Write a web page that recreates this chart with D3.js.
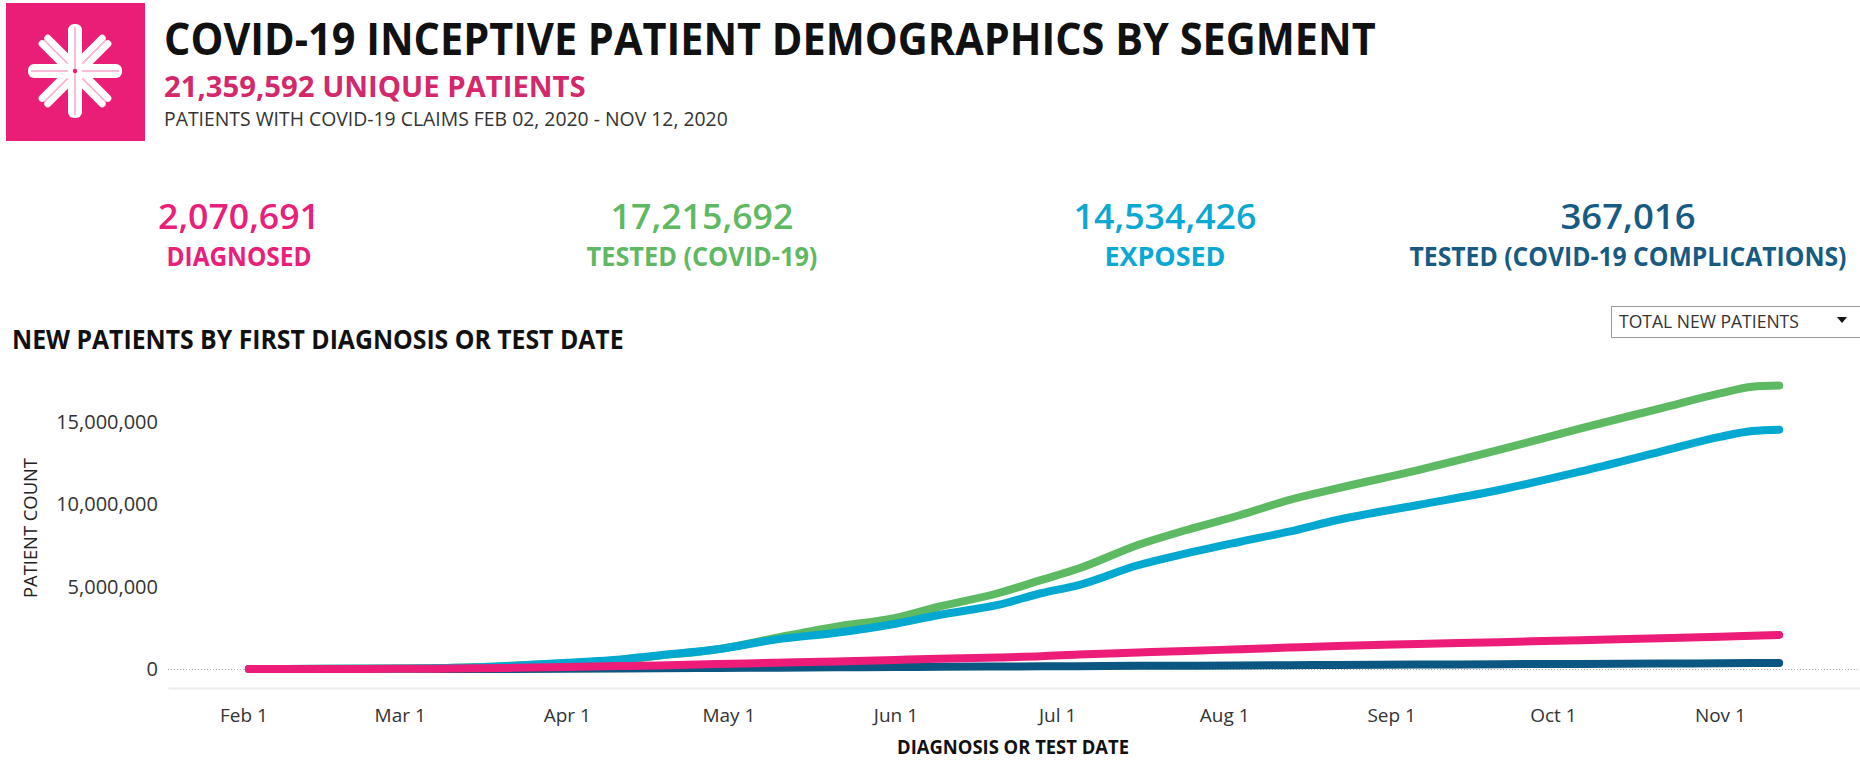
<!DOCTYPE html>
<html>
<head>
<meta charset="utf-8">
<script src="https://cdn.jsdelivr.net/npm/d3@7"></script>
<style>
  html, body { margin: 0; padding: 0; background: #fff; }
  svg { display: block; font-family: "Open Sans", "Noto Sans", sans-serif; }
</style>
</head>
<body>
<div id="vis"></div>
<script>
// Data (patient counts, cumulative)
const dates = ["2020-02-02", "2020-02-16", "2020-03-01", "2020-03-15", "2020-03-22", "2020-04-01",
  "2020-04-11", "2020-04-18", "2020-04-29", "2020-05-10", "2020-05-21", "2020-06-01", "2020-06-09",
  "2020-06-20", "2020-06-28", "2020-07-05", "2020-07-16", "2020-07-25", "2020-08-04", "2020-08-13",
  "2020-08-22", "2020-09-06", "2020-09-21", "2020-10-06", "2020-10-21", "2020-11-01", "2020-11-07",
  "2020-11-12"];

// in millions
const tested = [0, 0.01, 0.03, 0.1, 0.2, 0.35, 0.55, 0.8, 1.2, 1.9, 2.57, 3.1, 3.78, 4.6, 5.4, 6.1,
  7.53, 8.44, 9.35, 10.26, 10.97, 12.08, 13.3, 14.6, 15.83, 16.74, 17.14, 17.215692];
const exposed = [0, 0.01, 0.03, 0.1, 0.2, 0.38, 0.58, 0.82, 1.2, 1.8, 2.2, 2.75, 3.28, 3.89, 4.6, 5.1,
  6.3, 7.02, 7.73, 8.34, 9.05, 9.96, 10.87, 11.98, 13.2, 14.1, 14.45, 14.534426];
const diagnosed = [0, 0.002, 0.01, 0.04, 0.07, 0.12, 0.18, 0.22, 0.3, 0.38, 0.46, 0.55, 0.62, 0.7, 0.77, 0.88,
  1.0, 1.1, 1.2, 1.3, 1.4, 1.52, 1.63, 1.75, 1.86, 1.96, 2.02, 2.070691];
const complications = [0, 0, 0.001, 0.003, 0.006, 0.015, 0.03, 0.04, 0.06, 0.08, 0.1, 0.12, 0.13, 0.15, 0.16,
  0.17, 0.19, 0.2, 0.22, 0.235, 0.25, 0.27, 0.29, 0.31, 0.33, 0.35, 0.36, 0.367016];

const kpiValues = [2070691, 17215692, 14534426, 367016];
const kpiLabels = ["DIAGNOSED", "TESTED (COVID-19)", "EXPOSED", "TESTED (COVID-19 COMPLICATIONS)"];
const kpiColors = ["#e8207a", "#5fb962", "#0aa8d2", "#175a82"];

const yTicks = [0, 5000000, 10000000, 15000000];
const monthTicks = ["2020-02-01", "2020-03-01", "2020-04-01", "2020-05-01", "2020-06-01", "2020-07-01",
  "2020-08-01", "2020-09-01", "2020-10-01", "2020-11-01"];

const parse = d3.timeParse("%Y-%m-%d");

const svg = d3.select("#vis").append("svg")
  .attr("width", 1860)
  .attr("height", 761);

// text squeezed horizontally to a measured width (Tableau's font is narrower)
function label(x, y, w, anchor, txt) {
  const t = svg.append("text").attr("text-anchor", anchor).text(txt);
  return {
    t,
    done() {
      const k = w / t.node().getComputedTextLength();
      t.attr("transform", `translate(${x},${y}) scale(${k},1)`);
      return t;
    }
  };
}
function fitText(x, y, w, anchor, txt, size, weight, color) {
  const l = label(x, y, w, anchor, txt);
  l.t.attr("font-size", size).attr("font-weight", weight).attr("fill", color);
  return l.done();
}

// ---- logo
const logo = svg.append("g");
logo.append("rect")
  .attr("x", 6).attr("y", 3).attr("width", 139).attr("height", 138)
  .attr("fill", "#ea1e76");
const star = logo.append("g").attr("transform", "translate(75,71)");
[45, 135].forEach(a => {
  const arm = star.append("g").attr("transform", `rotate(${a})`);
  [-4, 4].forEach(off => {
    arm.append("rect")
      .attr("x", -46).attr("y", off - 3.5).attr("width", 92).attr("height", 7).attr("rx", 3.5)
      .attr("fill", "#fff");
  });
  arm.append("line")
    .attr("x1", -44).attr("x2", 44)
    .attr("stroke", "#f7c0d8").attr("stroke-width", 1.2);
});
[0, 90].forEach(a => {
  const arm = star.append("g").attr("transform", `rotate(${a})`);
  arm.append("rect")
    .attr("x", -47).attr("y", -7).attr("width", 94).attr("height", 14).attr("rx", 6)
    .attr("fill", "#fff");
  arm.append("line")
    .attr("x1", -44).attr("x2", 44)
    .attr("stroke", "#f4a6c8").attr("stroke-width", 1.5);
});
star.append("circle").attr("r", 2.2).attr("fill", "#ea1e76");

// ---- header text
fitText(164, 55, 1212, "start", "COVID-19 INCEPTIVE PATIENT DEMOGRAPHICS BY SEGMENT", 45, 700, "#111");
fitText(164, 97, 422, "start", "21,359,592 UNIQUE PATIENTS", 29, 700, "#d3286c");
fitText(164, 126, 564, "start", "PATIENTS WITH COVID-19 CLAIMS FEB 02, 2020 - NOV 12, 2020", 20, 400, "#333");

// ---- KPI row
const kpiX = [239, 702, 1165, 1628];
const numW = [162, 183, 183, 135];
const labW = [145, 231, 121, 437];
kpiValues.forEach((v, i) => {
  fitText(kpiX[i], 229, numW[i], "middle", d3.format(",")(v), 34, 600, kpiColors[i]);
  fitText(kpiX[i], 266, labW[i], "middle", kpiLabels[i], 26, 700, kpiColors[i]);
});

// ---- chart title + dropdown
fitText(12, 349, 612, "start", "NEW PATIENTS BY FIRST DIAGNOSIS OR TEST DATE", 27, 700, "#111");

svg.append("rect")
  .attr("x", 1611.5).attr("y", 306.5).attr("width", 270).attr("height", 31)
  .attr("fill", "#fff").attr("stroke", "#9a9a9a");
fitText(1619, 328, 180, "start", "TOTAL NEW PATIENTS", 18, 400, "#333");
svg.append("path")
  .attr("d", "M1837,317 L1847,317 L1842,323 Z")
  .attr("fill", "#111");

// ---- scales
const x = d3.scaleTime()
  .domain([parse("2020-01-18"), parse("2020-11-27")])
  .range([168, 1860]);

const y = d3.scaleLinear()
  .domain([0, 15000000])
  .range([669, 422]);

// x axis (light baseline below the plot)
const xAxis = svg.append("g")
  .attr("transform", "translate(0,688)")
  .call(d3.axisBottom(x)
    .tickValues(monthTicks.map(parse))
    .tickFormat(d3.timeFormat("%b %-d"))
    .tickSize(0)
    .tickPadding(21));
xAxis.select(".domain").attr("stroke", "#ececec").attr("stroke-width", 2);
xAxis.selectAll("text")
  .attr("font-family", "'Open Sans', sans-serif")
  .attr("font-size", 19).attr("fill", "#333");

// y axis
const yAxis = svg.append("g")
  .attr("transform", "translate(168,0)")
  .call(d3.axisLeft(y)
    .tickValues(yTicks)
    .tickFormat(d3.format(","))
    .tickSize(0)
    .tickPadding(10));
yAxis.select(".domain").remove();
yAxis.selectAll("text")
  .attr("font-family", "'Open Sans', sans-serif")
  .attr("font-size", 20).attr("fill", "#333");

// dotted zero line
svg.append("line")
  .attr("x1", 168).attr("x2", 1860)
  .attr("y1", y(0) + 0.5).attr("y2", y(0) + 0.5)
  .attr("stroke", "#b5b5b5").attr("stroke-width", 1)
  .attr("stroke-dasharray", "1,2");

// axis titles
const yTitle = svg.append("text")
  .attr("text-anchor", "middle")
  .attr("font-size", 19).attr("fill", "#222")
  .text("PATIENT COUNT");
yTitle.attr("transform", `translate(37,528) rotate(-90) scale(${140 / yTitle.node().getComputedTextLength()},1)`);

fitText(1013, 754, 232, "middle", "DIAGNOSIS OR TEST DATE", 20, 700, "#111");

// ---- lines
const line = d3.line()
  .x(d => x(d[0]))
  .y(d => y(d[1] * 1e6))
  .curve(d3.curveMonotoneX);

const series = [
  { values: complications, color: "#0b5781" },
  { values: tested, color: "#5dba63" },
  { values: exposed, color: "#02a8d0" },
  { values: diagnosed, color: "#ec1c78" }
];

svg.append("g").selectAll("path")
  .data(series)
  .join("path")
  .attr("d", s => line(dates.map((d, i) => [parse(d), s.values[i]])))
  .attr("fill", "none")
  .attr("stroke", s => s.color)
  .attr("stroke-width", 8)
  .attr("stroke-linecap", "round")
  .attr("stroke-linejoin", "round");
</script>
</body>
</html>
